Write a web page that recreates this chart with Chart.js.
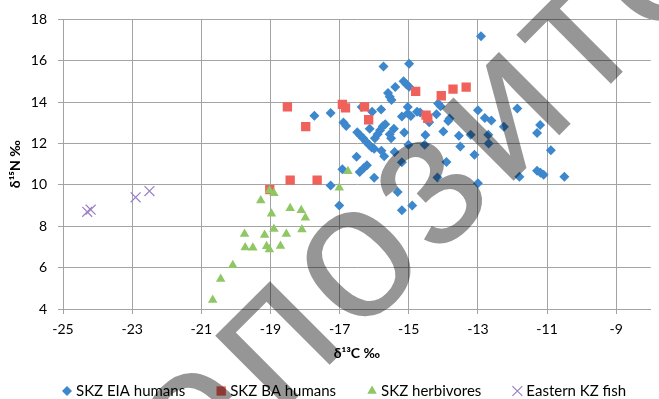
<!DOCTYPE html>
<html>
<head>
<meta charset="utf-8">
<script src="https://cdn.jsdelivr.net/npm/chart.js@4.4.0/dist/chart.umd.min.js"></script>
<style>
  html, body { margin: 0; padding: 0; background: #fff; }
  canvas { display: block; }
</style>
</head>
<body>
<canvas id="isotopeChart" width="659" height="399"></canvas>
<script>
// delta13C / delta15N pairs
const eiaHumans = [
  [-12.91, 17.18], [-15.73, 15.72], [-14.99, 15.86], [-15.15, 15.01], [-15.07, 14.86],
  [-14.99, 14.75], [-15.39, 14.73], [-15.60, 14.44], [-15.55, 14.26], [-15.50, 14.10],
  [-17.26, 13.47], [-17.73, 13.34], [-16.89, 13.01], [-16.81, 12.85], [-16.36, 13.77],
  [-16.06, 13.54], [-15.80, 13.64], [-16.13, 12.71], [-16.49, 12.55], [-16.40, 12.39],
  [-16.32, 12.25], [-16.24, 12.10], [-16.15, 11.94], [-16.07, 11.81], [-15.98, 12.26],
  [-15.90, 12.45], [-15.83, 12.64], [-15.75, 12.84], [-15.68, 12.93], [-16.00, 11.75],
  [-16.51, 11.36], [-16.92, 10.75], [-16.42, 10.62], [-16.30, 10.82], [-16.21, 10.95],
  [-17.26, 9.97], [-15.32, 9.66], [-15.20, 11.09], [-15.43, 12.71], [-15.55, 12.45],
  [-15.51, 12.26], [-15.20, 13.30], [-15.03, 13.76], [-15.03, 13.45], [-14.94, 13.33],
  [-14.76, 13.54], [-14.67, 13.50], [-15.13, 12.53], [-15.01, 11.94], [-15.41, 11.59],
  [-15.71, 11.38], [-15.79, 11.65], [-16.00, 10.34], [-14.52, 12.41], [-14.54, 11.94],
  [-14.00, 12.58], [-14.15, 13.93], [-14.08, 13.80], [-14.20, 13.42], [-13.82, 13.21],
  [-13.86, 13.09], [-14.41, 13.03], [-13.55, 12.37], [-13.21, 12.42], [-13.51, 11.85],
  [-13.10, 11.46], [-13.91, 11.11], [-14.17, 10.36], [-13.00, 13.61], [-12.80, 13.23],
  [-12.61, 13.11], [-12.25, 12.81], [-12.70, 12.42], [-12.69, 12.00], [-13.00, 10.08],
  [-11.86, 13.69], [-11.20, 12.90], [-11.29, 12.51], [-10.89, 11.68], [-11.80, 10.39],
  [-11.29, 10.68], [-11.19, 10.59], [-11.10, 10.49], [-10.50, 10.39], [-17.01, 9.00],
  [-15.20, 8.77], [-14.90, 9.00]
];
const baHumans = [
  [-18.51, 13.77], [-17.98, 12.82], [-18.43, 10.23], [-17.65, 10.23], [-19.02, 9.77],
  [-16.92, 13.89], [-16.83, 13.72], [-16.28, 13.77], [-16.16, 13.15], [-14.80, 14.52],
  [-14.06, 14.31], [-13.72, 14.63], [-13.34, 14.73], [-14.50, 13.37], [-14.45, 13.22]
];
const herbivores = [
  [-16.76, 10.66], [-17.01, 9.86], [-19.03, 9.73], [-18.90, 9.60], [-19.28, 9.25],
  [-18.97, 8.61], [-18.43, 8.87], [-18.11, 8.77], [-17.99, 8.41], [-18.90, 7.87],
  [-18.09, 7.84], [-19.75, 7.62], [-19.17, 7.58], [-18.54, 7.62], [-19.73, 6.97],
  [-19.51, 6.96], [-19.11, 7.03], [-19.03, 6.88], [-18.71, 7.05], [-20.09, 6.12],
  [-20.44, 5.45], [-20.67, 4.44]
];
const kzFish = [[-24.3, 8.7], [-24.2, 8.8], [-22.9, 9.4], [-22.5, 9.7]];

const seriesNames = ['SKZ EIA humans', 'SKZ BA humans', 'SKZ herbivores', 'Eastern KZ fish'];
const xTicks = [-25, -23, -21, -19, -17, -15, -13, -11, -9];
const yTicks = [4, 6, 8, 10, 12, 14, 16, 18];

const FONT = 'Lato, "Open Sans", sans-serif';
const gridColor = '#a3a3a3';
const toXY = arr => arr.map(p => ({ x: p[0], y: p[1] }));

const bgPlugin = {
  id: 'bg',
  beforeDraw(chart) {
    const ctx = chart.ctx;
    ctx.save();
    ctx.fillStyle = '#fff';
    ctx.fillRect(0, 0, chart.width, chart.height);
    ctx.restore();
  }
};

// legend drawn by hand so the plot area stays put
const legendPlugin = {
  id: 'bottomLegend',
  afterDraw(chart) {
    const ctx = chart.ctx;
    const y = 391;
    let x = 67;
    ctx.save();
    ctx.font = '15px ' + FONT;
    ctx.textBaseline = 'middle';
    ctx.textAlign = 'left';
    chart.data.datasets.forEach(ds => {
      ctx.fillStyle = ds.backgroundColor;
      ctx.strokeStyle = ds.borderColor;
      ctx.lineWidth = ds.borderWidth;
      Chart.helpers.drawPoint(ctx, { pointStyle: ds.pointStyle, radius: ds.pointRadius, borderWidth: ds.borderWidth, rotation: 0 }, x, y);
      ctx.fillStyle = '#000';
      ctx.fillText(ds.label, x + 9, y);
      x += 9 + ctx.measureText(ds.label).width + 36;
    });
    ctx.restore();
  }
};

// grey repository stamp laid across the figure
const watermarkPlugin = {
  id: 'watermark',
  afterDraw(chart) {
    const ctx = chart.ctx;
    const size = 192;
    ctx.save();
    ctx.globalCompositeOperation = 'multiply';
    ctx.font = size + 'px "Liberation Sans"';
    ctx.letterSpacing = '8px';
    const pre = ctx.measureText('Репо').width;
    const ow = ctx.measureText('о').width;
    ctx.translate(362, 262);
    ctx.rotate(-45 * Math.PI / 180);
    ctx.fillStyle = 'rgb(150,150,150)';
    ctx.fillText('Репозиторий', -(pre - ow / 2), size * 0.26);
    ctx.restore();
  }
};

new Chart(document.getElementById('isotopeChart'), {
  type: 'scatter',
  data: {
    datasets: [
      {
        label: seriesNames[0], data: toXY(eiaHumans), order: 4,
        pointStyle: 'rectRot', pointRadius: 5, borderWidth: 0,
        backgroundColor: '#3d87cd', borderColor: '#3d87cd'
      },
      {
        label: seriesNames[1], data: toXY(baHumans), order: 3,
        pointStyle: 'rect', pointRadius: 6.6, borderWidth: 0,
        backgroundColor: '#f1615b', borderColor: '#f1615b'
      },
      {
        label: seriesNames[2], data: toXY(herbivores), order: 2,
        pointStyle: 'triangle', pointRadius: 5.5, borderWidth: 0,
        backgroundColor: '#8fc765', borderColor: '#8fc765'
      },
      {
        label: seriesNames[3], data: toXY(kzFish), order: 1,
        pointStyle: 'crossRot', pointRadius: 7, borderWidth: 1.2,
        backgroundColor: '#9a80c6', borderColor: '#9a80c6'
      }
    ]
  },
  options: {
    responsive: false,
    animation: false,
    layout: { padding: { left: 0, right: 0, top: 17, bottom: 0 } },
    plugins: { legend: { display: false }, tooltip: { enabled: false } },
    scales: {
      x: {
        type: 'linear', min: -25, max: -8,
        afterBuildTicks: s => { s.ticks = xTicks.map(v => ({ value: v })); },
        afterFit: s => { s.height = 90; },
        grid: { color: gridColor, tickLength: 5 },
        border: { color: gridColor },
        ticks: { color: '#000', font: { family: FONT, size: 14 }, padding: 7, maxRotation: 0 },
        title: {
          display: true, text: 'δ¹³C ‰', color: '#000',
          font: { family: FONT, size: 14, weight: 'bold' },
          padding: { top: 0, bottom: 37 }
        }
      },
      y: {
        type: 'linear', min: 4, max: 18,
        afterBuildTicks: s => { s.ticks = yTicks.map(v => ({ value: v })); },
        afterFit: s => { s.width = 63; },
        grid: { color: gridColor, tickLength: 5 },
        border: { color: gridColor },
        ticks: { color: '#000', font: { family: FONT, size: 14 }, padding: 11 },
        title: {
          display: true, text: 'δ¹⁵N ‰', color: '#000',
          font: { family: FONT, size: 14, weight: 'bold' },
          padding: { top: 7, bottom: 0 }
        }
      }
    }
  },
  plugins: [bgPlugin, legendPlugin, watermarkPlugin]
});
</script>
</body>
</html>
